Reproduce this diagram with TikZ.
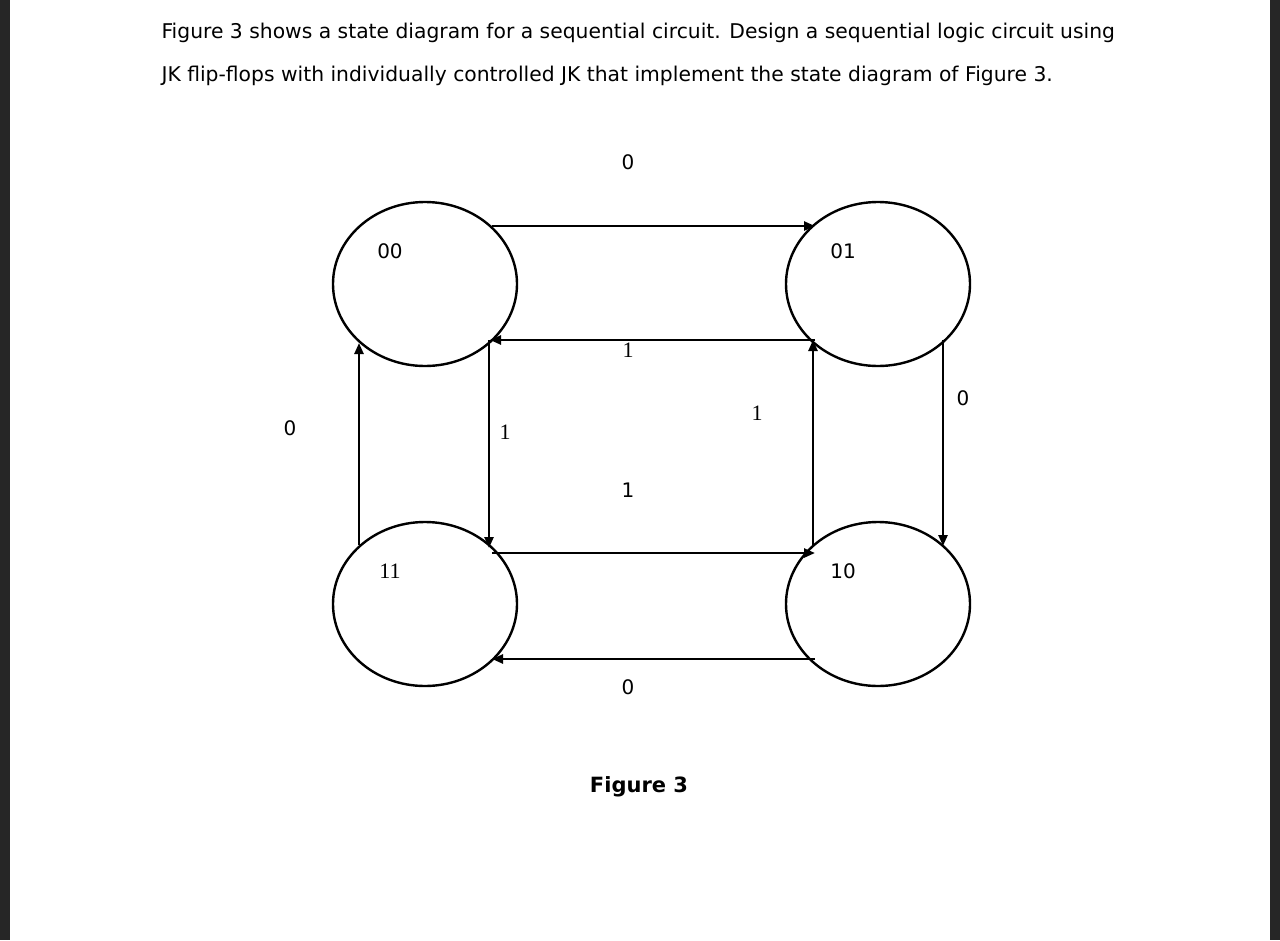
\documentclass[tikz,border=0pt]{standalone}
\usepackage{fontspec}
\setmainfont{DejaVu Sans}
\newfontfamily\serifff{Liberation Serif}
\usetikzlibrary{arrows.meta,shapes.geometric}
\begin{document}
\begin{tikzpicture}[x=1pt,y=-1pt,
  st/.style={draw,line width=2.4pt,ellipse,minimum width=184pt,minimum height=164pt,inner sep=0pt},
  ar/.style={line width=2.4pt,-{Triangle[length=11pt,width=9pt]}},
  lb/.style={font=\fontsize{20}{20}\selectfont},
  ls/.style={font=\serifff\fontsize{22}{22}\selectfont}]
\useasboundingbox (0,0) rectangle (1280,940);
\fill[white] (0,0) rectangle (1280,940);
\fill[black!85] (0,0) rectangle (10,940);
\fill[black!85] (1270,0) rectangle (1280,940);
\node[anchor=west,font=\fontsize{20.3}{20.3}\selectfont] (t1) at (158,33) {Figure 3 shows a state diagram for a sequential circuit. Design a sequential logic circuit using};
\node[anchor=west,font=\fontsize{20.3}{20.3}\selectfont] (t2) at (158,76) {JK flip-flops with individually controlled JK that implement the state diagram of Figure 3.};
\node[st] (s00) at (425,284) {};
\node[st] (s01) at (878,284) {};
\node[st] (s11) at (425,604) {};
\node[st] (s10) at (878,604) {};
\node[lb] (n00) at (390,251) {00};
\node[lb] (n01) at (843,251) {01};
\node[ls] (n11) at (390,571) {11};
\node[lb] (n10) at (843,571) {10};
\coordinate (a1) at (492,226); \coordinate (a2) at (815,226);
\coordinate (b1) at (815,340); \coordinate (b2) at (490,340);
\coordinate (c1) at (489,340); \coordinate (c2) at (489,548);
\coordinate (d1) at (492,553); \coordinate (d2) at (815,553);
\coordinate (e1) at (813,545); \coordinate (e2) at (813,340);
\coordinate (f1) at (943,340); \coordinate (f2) at (943,546);
\coordinate (g1) at (359,545); \coordinate (g2) at (359,343);
\coordinate (h1) at (815,659); \coordinate (h2) at (492,659);
\draw[ar] (a1) -- (a2);
\draw[ar] (b1) -- (b2);
\draw[ar] (c1) -- (c2);
\draw[ar] (d1) -- (d2);
\draw[ar] (e1) -- (e2);
\draw[ar] (f1) -- (f2);
\draw[ar] (g1) -- (g2);
\draw[ar] (h1) -- (h2);
\node[lb] (l1) at (628,162) {0};
\node[ls] (l2) at (628,350) {1};
\node[lb] (l3) at (290,428) {0};
\node[ls] (l4) at (505,432) {1};
\node[ls] (l5) at (757,413) {1};
\node[lb] (l6) at (628,490) {1};
\node[lb] (l7) at (963,398) {0};
\node[lb] (l8) at (628,687) {0};
\node[font=\bfseries\fontsize{21}{21}\selectfont] (fig) at (639,787) {Figure 3};
\end{tikzpicture}
\end{document}
